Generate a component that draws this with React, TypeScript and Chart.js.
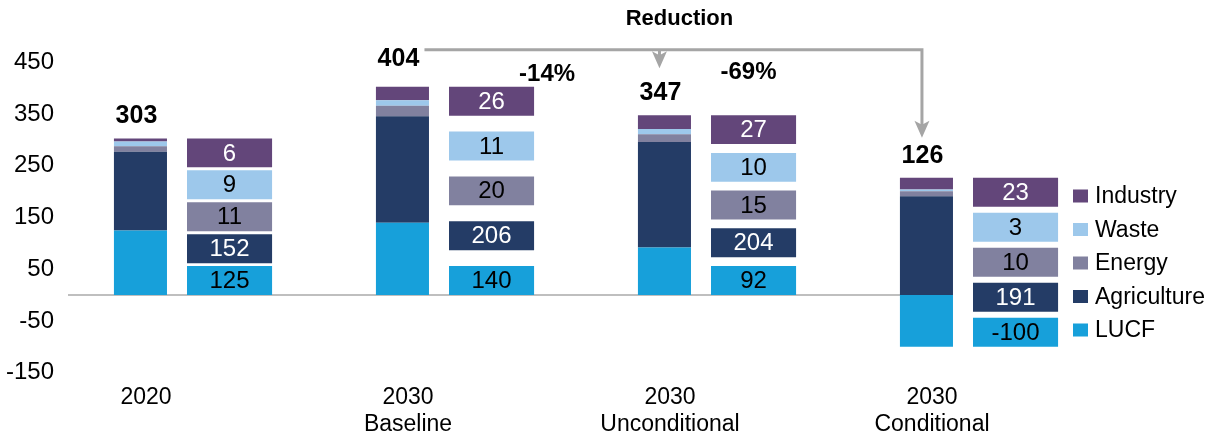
import React, { useEffect, useRef } from 'react';
import { Chart, registerables } from 'chart.js';

Chart.register(...registerables);

// ---------- data ----------
const categories: string[][] = [['2020'], ['2030', 'Baseline'], ['2030', 'Unconditional'], ['2030', 'Conditional']];
const lucf = [125, 140, 92, -100];
const agriculture = [152, 206, 204, 191];
const energy = [11, 20, 15, 10];
const waste = [9, 11, 10, 3];
const industry = [6, 26, 27, 23];
const totals = [303, 404, 347, 126];
const reductionTitle = 'Reduction';
const reductionLabels = ['-14%', '-69%'];
const yMin = -150;
const yMax = 450;
const yStep = 100;

// ---------- styles ----------
const FONT = "'Liberation Sans', Arial, sans-serif";
const series = [
  { label: 'LUCF', data: lucf, color: '#17a0da', text: '#000000' },
  { label: 'Agriculture', data: agriculture, color: '#243c66', text: '#ffffff' },
  { label: 'Energy', data: energy, color: '#81819f', text: '#000000' },
  { label: 'Waste', data: waste, color: '#9dc8eb', text: '#000000' },
  { label: 'Industry', data: industry, color: '#63467a', text: '#ffffff' },
];
const BOX_UNITS = 56; // height of each value box, in axis units
const CAT_PCT = 0.68;

function boxRanges(k: number): [number, number][] {
  return categories.map((_, i) => {
    const vals = series.map((s) => s.data[i]);
    const lo = vals.filter((v) => v < 0).reduce((a, b) => a + b, 0);
    const hi = vals.filter((v) => v > 0).reduce((a, b) => a + b, 0);
    const n = series.length;
    const gap = (hi - lo - n * BOX_UNITS) / (n - 1);
    const start = lo + k * (BOX_UNITS + gap);
    return [start, start + BOX_UNITS];
  });
}

const annotate = {
  id: 'annotate',
  beforeDatasetsDraw(chart: any) {
    const { ctx, chartArea, scales } = chart;
    const y0 = scales.y.getPixelForValue(0);
    const lastBar = chart.getDatasetMeta(0).data[categories.length - 1];
    ctx.save();
    ctx.strokeStyle = '#bfbfbf';
    ctx.lineWidth = 2;
    ctx.beginPath();
    ctx.moveTo(chartArea.left + 14, y0);
    ctx.lineTo(lastBar.x, y0);
    ctx.stroke();
    ctx.restore();
  },
  afterDatasetsDraw(chart: any) {
    const { ctx } = chart;
    const n = series.length;
    ctx.save();
    // values inside boxes
    ctx.font = `24px ${FONT}`;
    ctx.textAlign = 'center';
    ctx.textBaseline = 'middle';
    series.forEach((s, k) => {
      const meta = chart.getDatasetMeta(n + k);
      meta.data.forEach((el: any, i: number) => {
        ctx.fillStyle = s.text;
        ctx.fillText(String(s.data[i]), el.x, (el.y + el.base) / 2 + 1);
      });
    });
    // totals above bars
    const cx: number[] = [];
    const top: number[] = [];
    categories.forEach((_, i) => {
      let t = Infinity;
      let x = 0;
      for (let k = 0; k < n; k++) {
        const el: any = chart.getDatasetMeta(k).data[i];
        t = Math.min(t, el.y, el.base);
        x = el.x;
      }
      cx.push(x);
      top.push(t);
    });
    ctx.font = `bold 25px ${FONT}`;
    ctx.fillStyle = '#000';
    ctx.textBaseline = 'alphabetic';
    totals.forEach((v, i) => {
      ctx.fillText(String(v), cx[i] - 4, top[i] - (i === 1 ? 21 : 15));
    });
    // reduction arrows
    const lineY = top[1] - 37;
    const startX = cx[1] + 22;
    const a1x = cx[2] - 5;
    const a2x = cx[3] - 4.5;
    const tip1 = top[2] - 47;
    const tip2 = top[3] - 40;
    ctx.strokeStyle = '#a5a5a5';
    ctx.fillStyle = '#a5a5a5';
    ctx.lineWidth = 3;
    ctx.beginPath();
    ctx.moveTo(startX, lineY);
    ctx.lineTo(a2x, lineY);
    ctx.lineTo(a2x, tip2 - 12);
    ctx.moveTo(a1x, lineY);
    ctx.lineTo(a1x, tip1 - 12);
    ctx.stroke();
    const head = (x: number, y: number) => {
      ctx.beginPath();
      ctx.moveTo(x, y);
      ctx.lineTo(x - 7.5, y - 17);
      ctx.lineTo(x, y - 13);
      ctx.lineTo(x + 7.5, y - 17);
      ctx.closePath();
      ctx.fill();
    };
    head(a1x, tip1);
    head(a2x, tip2);
    // reduction texts
    ctx.fillStyle = '#000';
    ctx.font = `bold 22px ${FONT}`;
    ctx.textAlign = 'center';
    ctx.textBaseline = 'alphabetic';
    ctx.fillText(reductionTitle, cx[2] + 15, lineY - 25);
    ctx.font = `bold 24px ${FONT}`;
    ctx.textBaseline = 'middle';
    const box1: any = chart.getDatasetMeta(n).data[1];
    const box2: any = chart.getDatasetMeta(n).data[2];
    ctx.fillText(reductionLabels[0], box1.x + box1.width / 2 + 13, lineY + 25);
    ctx.fillText(reductionLabels[1], box2.x - 5, lineY + 23);
    // legend
    ctx.font = `23px ${FONT}`;
    ctx.textAlign = 'left';
    const rows = [...series].reverse();
    rows.forEach((s, r) => {
      const yc = 196 + r * 33.5;
      ctx.fillStyle = s.color;
      ctx.fillRect(1073, yc - 6.5, 15, 13);
      ctx.fillStyle = '#000';
      ctx.fillText(s.label, 1095, yc + 1);
    });
    ctx.restore();
  },
};

export default function App() {
  const ref = useRef<HTMLCanvasElement | null>(null);
  useEffect(() => {
    if (!ref.current) return;
    Chart.defaults.font.family = FONT;
    const mainSets = series.map((s) => ({
      label: s.label,
      data: s.data,
      backgroundColor: s.color,
      stack: 'bar',
      yAxisID: 'y',
      categoryPercentage: CAT_PCT,
      barPercentage: 0.5955,
      borderWidth: 0,
    }));
    const boxSets = series.map((s, k) => ({
      label: s.label + ' value',
      data: boxRanges(k),
      backgroundColor: s.color,
      stack: 'table',
      yAxisID: 'y2',
      categoryPercentage: CAT_PCT,
      barPercentage: 0.955,
      borderWidth: 0,
    }));
    const chart = new Chart(ref.current, {
      type: 'bar',
      data: { labels: categories, datasets: [...mainSets, ...boxSets] as any },
      options: {
        responsive: false,
        animation: false,
        devicePixelRatio: 1,
        layout: { padding: { top: 62.4, right: 108, bottom: 0, left: 0 } },
        plugins: { legend: { display: false }, tooltip: { enabled: false } },
        scales: {
          x: {
            stacked: true,
            grid: { display: false, drawTicks: false },
            border: { display: false },
            ticks: {
              font: { size: 23 },
              color: '#000',
              padding: 11,
              labelOffset: -39,
              maxRotation: 0,
              autoSkip: false,
            },
            afterFit: (s: any) => {
              s.height = 69.4;
            },
          },
          y: {
            stacked: true,
            min: yMin,
            max: yMax,
            grid: { display: false, drawTicks: false },
            border: { display: false },
            ticks: { stepSize: yStep, font: { size: 24 }, color: '#000', padding: 0 },
            afterFit: (s: any) => {
              s.width = 54;
            },
          },
          y2: {
            display: false,
            stacked: false,
            min: yMin,
            max: yMax,
          },
        },
      } as any,
      plugins: [annotate],
    });
    return () => chart.destroy();
  }, []);
  return (
    <canvas
      ref={ref}
      width={1210}
      height={442}
      style={{ position: 'absolute', left: 0, top: 0, display: 'block' }}
    />
  );
}
